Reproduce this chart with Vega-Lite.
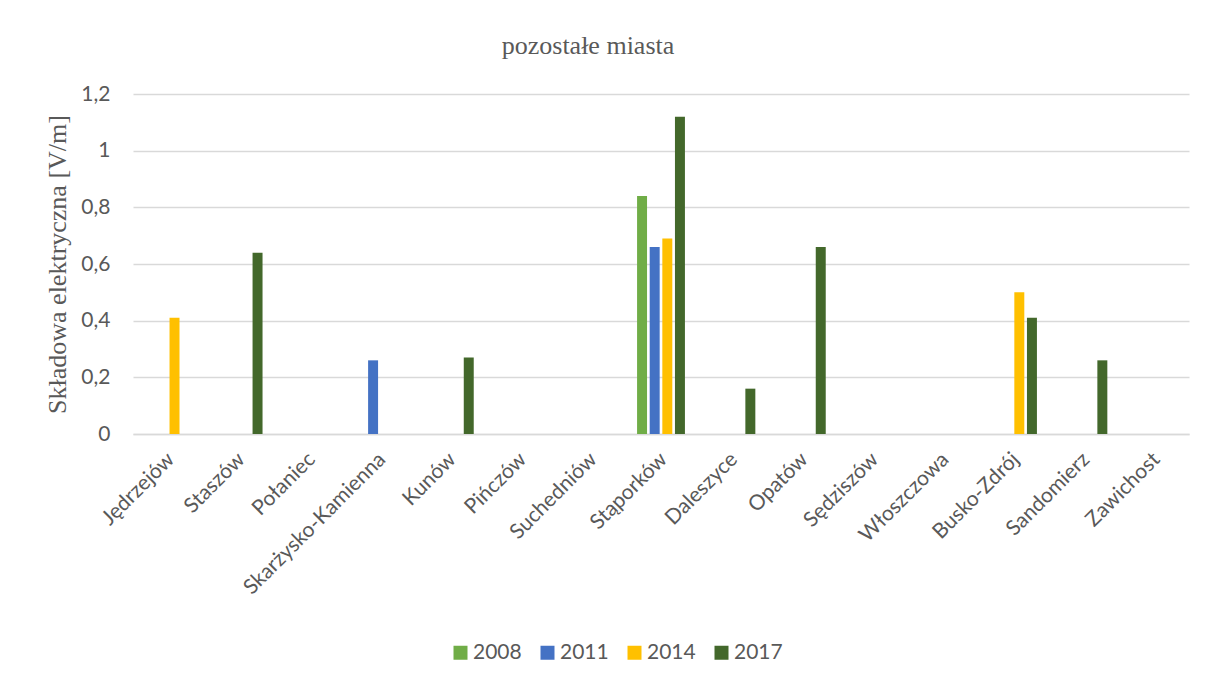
{
  "$schema": "https://vega.github.io/schema/vega-lite/v6.json",
  "width": 1056,
  "height": 340,
  "autosize": {"type": "none"},
  "padding": {"left": 133, "top": 94, "right": 18, "bottom": 250},
  "background": "white",
  "title": {
    "text": "pozostałe miasta",
    "font": "Liberation Serif",
    "fontSize": 26,
    "fontWeight": "normal",
    "color": "#595959",
    "anchor": "middle",
    "dx": -73,
    "offset": 24
  },
  "data": {
    "values": [
      {"miasto": "Jędrzejów", "rok": "2014", "wartosc": 0.41},
      {"miasto": "Staszów", "rok": "2017", "wartosc": 0.64},
      {"miasto": "Skarżysko-Kamienna", "rok": "2011", "wartosc": 0.26},
      {"miasto": "Kunów", "rok": "2017", "wartosc": 0.27},
      {"miasto": "Stąporków", "rok": "2008", "wartosc": 0.84},
      {"miasto": "Stąporków", "rok": "2011", "wartosc": 0.66},
      {"miasto": "Stąporków", "rok": "2014", "wartosc": 0.69},
      {"miasto": "Stąporków", "rok": "2017", "wartosc": 1.12},
      {"miasto": "Daleszyce", "rok": "2017", "wartosc": 0.16},
      {"miasto": "Opatów", "rok": "2017", "wartosc": 0.66},
      {"miasto": "Busko-Zdrój", "rok": "2014", "wartosc": 0.5},
      {"miasto": "Busko-Zdrój", "rok": "2017", "wartosc": 0.41},
      {"miasto": "Sandomierz", "rok": "2017", "wartosc": 0.26}
    ]
  },
  "mark": {"type": "bar"},
  "encoding": {
    "x": {
      "field": "miasto",
      "type": "nominal",
      "sort": null,
      "scale": {
        "domain": ["Jędrzejów", "Staszów", "Połaniec", "Skarżysko-Kamienna", "Kunów", "Pińczów", "Suchedniów", "Stąporków", "Daleszyce", "Opatów", "Sędziszów", "Włoszczowa", "Busko-Zdrój", "Sandomierz", "Zawichost"],
        "paddingInner": 0.32,
        "paddingOuter": 0.16
      },
      "axis": {
        "title": null,
        "labelAngle": -45,
        "labelAlign": "right",
        "labelBaseline": "middle",
        "labelFont": "Lato",
        "labelFontSize": 21,
        "labelColor": "#595959",
        "labelPadding": 22,
        "labelOffset": 3,
        "labelLimit": 0,
        "ticks": false,
        "domainColor": "#D9D9D9",
        "domainWidth": 1.5,
        "grid": false
      }
    },
    "xOffset": {
      "field": "rok",
      "type": "nominal",
      "scale": {"domain": ["2008", "2011", "2014", "2017"], "paddingInner": 0.21, "paddingOuter": 0}
    },
    "y": {
      "field": "wartosc",
      "type": "quantitative",
      "scale": {"domain": [0, 1.2], "nice": false},
      "axis": {
        "title": "Składowa elektryczna [V/m]",
        "titleFont": "Liberation Serif",
        "titleFontSize": 26,
        "titleFontWeight": "normal",
        "titleColor": "#595959",
        "titlePadding": 10,
        "values": [0, 0.2, 0.4, 0.6, 0.8, 1, 1.2],
        "labelExpr": "replace(format(datum.value, '~g'), '.', ',')",
        "labelFont": "Lato",
        "labelFontSize": 21,
        "labelColor": "#595959",
        "labelPadding": 23,
        "ticks": false,
        "domain": false,
        "grid": true,
        "gridColor": "#D9D9D9",
        "gridWidth": 1.5
      }
    },
    "color": {
      "field": "rok",
      "type": "nominal",
      "scale": {"domain": ["2008", "2011", "2014", "2017"], "range": ["#70AD47", "#4472C4", "#FFC000", "#43682B"]},
      "legend": {
        "title": null,
        "orient": "none",
        "legendX": 317,
        "legendY": 548,
        "direction": "horizontal",
        "symbolType": "square",
        "symbolSize": 196,
        "symbolStrokeWidth": 0,
        "labelOffset": 2,
        "labelFont": "Lato",
        "labelFontSize": 21,
        "labelColor": "#595959",
        "columnPadding": 15
      }
    }
  },
  "config": {
    "view": {"stroke": null}
  }
}
